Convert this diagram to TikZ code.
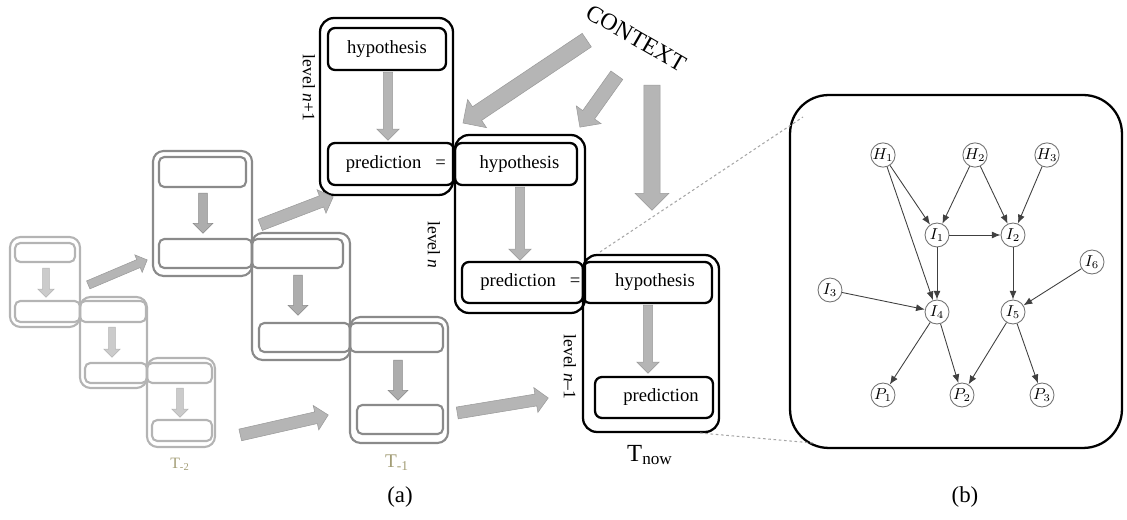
\documentclass[tikz,border=0pt]{standalone}
\usepackage{fontspec}
\setmainfont{Liberation Serif}
\usetikzlibrary{shapes.arrows,calc,arrows.meta}
\definecolor{arrgray}{HTML}{B5B5B5}
\definecolor{fadeA}{HTML}{8A8A8A}
\definecolor{fadeB}{HTML}{B4B4B4}
\definecolor{tlabel}{HTML}{A39D76}
% fat grey arrow from #2 to #3, shaft #4, head #5
\newcommand{\fatarrow}[5][]{%
  \path let \p1=($(#3)-(#2)$), \n1={veclen(\x1,\y1)} in
  (#2) -- (#3) node[pos=0, sloped, allow upside down, anchor=tail, single arrow,
  inner xsep=0pt, inner ysep={0.5*#4}, minimum height=\n1,
  single arrow head extend={0.5*(#5-#4)}, fill=arrgray, draw=arrgray!85!black, line width=0.3pt, #1] {};}
\tikzset{
  outerbox/.style={draw, line width=1.3pt, rounded corners=8pt, inner sep=0pt},
  innerbox/.style={draw, line width=1.3pt, rounded corners=4pt, inner sep=0pt, font=\fontsize{10.6}{12}\selectfont},
  fadeouter/.style={draw=#1, line width=1.2pt, rounded corners=6pt, inner sep=0pt},
  fadeinner/.style={draw=#1, line width=1.2pt, rounded corners=3pt, inner sep=0pt},
  lvl/.style={rotate=-90, font=\fontsize{10}{12}\selectfont},
  gnode/.style={circle, draw=black!55, line width=0.5pt, minimum size=0.48cm, inner sep=0pt, font=\fontsize{9}{10}\selectfont},
  gedge/.style={draw=black!75, line width=0.5pt, -{Latex[length=5pt,width=4pt]}}
}
\begin{document}
\begin{tikzpicture}[x=0.02cm, y=-0.02cm]
\useasboundingbox (0,0) rectangle (1127,520);

% T-2 (faded)
\node[fadeouter=fadeB, minimum width=1.4cm, minimum height=1.8cm] (ta1) at (45,282) {};
\node[fadeouter=fadeB, minimum width=1.34cm, minimum height=1.82cm] (ta2) at (113.5,342.5) {};
\node[fadeouter=fadeB, minimum width=1.36cm, minimum height=1.78cm] (ta3) at (181,402.5) {};
\node[fadeinner=fadeB, minimum width=1.2cm, minimum height=0.38cm] (ta1h) at (45,252.5) {};
\node[fadeinner=fadeB, minimum width=1.3cm, minimum height=0.42cm] (ta1p) at (47.5,311.5) {};
\node[fadeinner=fadeB, minimum width=1.32cm, minimum height=0.42cm] (ta2h) at (113,311.5) {};
\node[fadeinner=fadeB, minimum width=1.24cm, minimum height=0.4cm] (ta2p) at (116,373) {};
\node[fadeinner=fadeB, minimum width=1.3cm, minimum height=0.4cm] (ta3h) at (179.5,373) {};
\node[fadeinner=fadeB, minimum width=1.2cm, minimum height=0.42cm] (ta3p) at (182,430.5) {};

% T-1 (faded)
\node[fadeouter=fadeA, minimum width=1.98cm, minimum height=2.5cm] (tb1) at (202.5,213.5) {};
\node[fadeouter=fadeA, minimum width=1.96cm, minimum height=2.54cm] (tb2) at (301,296.5) {};
\node[fadeouter=fadeA, minimum width=1.96cm, minimum height=2.52cm] (tb3) at (399,380) {};
\node[fadeinner=fadeA, minimum width=1.74cm, minimum height=0.6cm] (tb1h) at (202.5,172) {};
\node[fadeinner=fadeA, minimum width=1.86cm, minimum height=0.58cm] (tb1p) at (205.5,253.5) {};
\node[fadeinner=fadeA, minimum width=1.82cm, minimum height=0.58cm] (tb2h) at (297.5,253.5) {};
\node[fadeinner=fadeA, minimum width=1.82cm, minimum height=0.58cm] (tb2p) at (304.5,337.5) {};
\node[fadeinner=fadeA, minimum width=1.86cm, minimum height=0.58cm] (tb3h) at (396.5,337.5) {};
\node[fadeinner=fadeA, minimum width=1.72cm, minimum height=0.58cm] (tb3p) at (400,419.5) {};

% T now
\node[outerbox, minimum width=2.66cm, minimum height=3.54cm] (lvlTop) at (386.5,106.5) {};
\node[outerbox, minimum width=2.6cm, minimum height=3.56cm] (lvlMid) at (520,224) {};
\node[outerbox, minimum width=2.72cm, minimum height=3.54cm] (lvlLow) at (651,343.5) {};
\node[innerbox, minimum width=2.36cm, minimum height=0.84cm] (hypTop) at (387,49) {hypothesis};
\node[innerbox, minimum width=2.52cm, minimum height=0.84cm] (predTop) at (391,164) {\hspace*{5.5pt}prediction\hspace{8pt}=};
\node[innerbox, minimum width=2.44cm, minimum height=0.84cm] (hypMid) at (516,164) {\hspace*{4pt}hypothesis};
\node[innerbox, minimum width=2.42cm, minimum height=0.82cm] (predMid) at (522.5,282.5) {\hspace*{9pt}prediction\hspace{8pt}=};
\node[innerbox, minimum width=2.58cm, minimum height=0.82cm] (hypLow) at (647.5,282.5) {\hspace*{8.5pt}hypothesis};
\node[innerbox, minimum width=2.36cm, minimum height=0.82cm] (predLow) at (654,397.5) {\hspace*{8pt}prediction};

\node[lvl] (lblTop) at (309,88) {level \textit{n}+1};
\node[lvl] (lblMid) at (434,245) {level \textit{n}};
\node[lvl] (lblLow) at (570,367) {level \textit{n}--1};

\node[font=\fontsize{9}{10}\selectfont, text=tlabel] (tm2) at (180,464) {T\textsubscript{-2}};
\node[font=\fontsize{11}{12}\selectfont, text=tlabel] (tm1) at (397,463) {T\textsubscript{-1}};
\node[font=\fontsize{14}{16}\selectfont] (tnow) at (650,455) {T\textsubscript{now}};
\node[rotate=-30, font=\fontsize{13.5}{15}\selectfont] (ctx) at (636,38) {CONTEXT};
\node[font=\fontsize{13}{15}\selectfont] (capA) at (400,497) {(a)};
\node[font=\fontsize{13}{15}\selectfont] (capB) at (965,497) {(b)};

% arrows
\path
(46,268) coordinate (a1s) (46,297) coordinate (a1e)
(112,327) coordinate (a2s) (112,357) coordinate (a2e)
(180,388) coordinate (a3s) (180,417) coordinate (a3e)
(203,193) coordinate (b1s) (203,233) coordinate (b1e)
(298,275) coordinate (b2s) (298,315) coordinate (b2e)
(398,360) coordinate (b3s) (398,400) coordinate (b3e)
(388,72) coordinate (c1s) (388,140) coordinate (c1e)
(520,187) coordinate (c2s) (520,260) coordinate (c2e)
(648,305) coordinate (c3s) (648,373) coordinate (c3e)
(88,285) coordinate (h1s) (147,260) coordinate (h1e)
(260,225) coordinate (h2s) (333,197) coordinate (h2e)
(240,435) coordinate (h3s) (328,415) coordinate (h3e)
(457,413) coordinate (h4s) (548,398) coordinate (h4e)
(587,40) coordinate (x1s) (463,123) coordinate (x1e)
(617,75) coordinate (x2s) (580,127) coordinate (x2e)
(652,85) coordinate (x3s) (652,210) coordinate (x3e);
\foreach \s in {a1,a2,a3}{
  \fatarrow[fill=fadeB!70, draw=fadeB]{\s s}{\s e}{3.6pt}{9pt}}
\foreach \s in {b1,b2,b3}{
  \fatarrow[fill=fadeA!70, draw=fadeA]{\s s}{\s e}{4.6pt}{11pt}}
\foreach \s in {c1,c2,c3}{
  \fatarrow{\s s}{\s e}{5pt}{12.5pt}}
\fatarrow{h1s}{h1e}{4.6pt}{10.5pt}
\foreach \s in {h2,h3,h4}{
  \fatarrow{\s s}{\s e}{6.5pt}{14pt}}
\fatarrow{x1s}{x1e}{9pt}{19pt}
\fatarrow{x2s}{x2e}{8pt}{17pt}
\fatarrow{x3s}{x3e}{9pt}{19pt}

% zoom panel
\node[draw, line width=1.3pt, rounded corners=22pt, minimum width=6.64cm, minimum height=7.06cm] (panel) at (956,271.5) {};
\path (600,252) coordinate (zA) (803,117) coordinate (zB) (700,433) coordinate (zC) (813,443) coordinate (zD);
\draw[black!35, line width=0.6pt, dash pattern=on 1.5pt off 1.5pt] (zA)--(zB) (zC)--(zD);

\foreach \n/\x/\y/\t in {H1/883/155/H_1, H2/975/155/H_2, H3/1047/155/H_3, I1/937/235/I_1, I2/1013/235/I_2, I6/1092/262/I_6, I3/830/290/I_3, I4/937/312/I_4, I5/1013/312/I_5, P1/883/395/P_1, P2/962/395/P_2, P3/1042/395/P_3}
  \node[gnode] (\n) at (\x,\y) {$\t$};
\foreach \a/\b in {H1/I1, H1/I4, H2/I1, H2/I2, H3/I2, I1/I2, I1/I4, I2/I5, I6/I5, I3/I4, I4/P1, I4/P2, I5/P2, I5/P3}
  \draw[gedge] (\a) -- (\b);
\end{tikzpicture}
\end{document}
